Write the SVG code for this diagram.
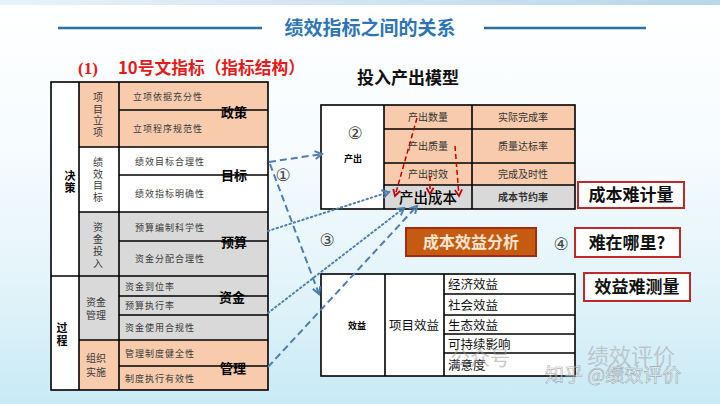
<svg xmlns="http://www.w3.org/2000/svg" width="720" height="404" viewBox="0 0 720 404">
<defs>
<linearGradient id="bg" x1="0" y1="0" x2="0" y2="1">
<stop offset="0" stop-color="#ffffff"/>
<stop offset="0.35" stop-color="#f7fcfe"/>
<stop offset="0.7" stop-color="#e3f4fa"/>
<stop offset="1" stop-color="#c9eaf5"/>
</linearGradient>
<linearGradient id="topbar" x1="0" y1="0" x2="1" y2="0">
<stop offset="0" stop-color="#e9f2f8"/>
<stop offset="1" stop-color="#b8d6ea"/>
</linearGradient>
<marker id="ab" viewBox="0 0 10 10" refX="8" refY="5" markerWidth="5" markerHeight="5" orient="auto" markerUnits="strokeWidth">
<path d="M1,1 L8,5 L1,9" fill="none" stroke="#4f7fae" stroke-width="2"/>
</marker>
<marker id="ar" viewBox="0 0 10 10" refX="8" refY="5" markerWidth="6" markerHeight="6" orient="auto" markerUnits="strokeWidth">
<path d="M1,1 L8,5 L1,9" fill="none" stroke="#c00000" stroke-width="2"/>
</marker>
</defs>
<style>
.f{font-family:"Noto Sans CJK SC","Liberation Sans",sans-serif}
.cell{font-family:"Noto Sans CJK SC",sans-serif;font-size:9px;fill:#3a3a3a;letter-spacing:1px}
.vt{font-family:"Noto Sans CJK SC",sans-serif;font-size:10px;fill:#3a3a3a;text-anchor:middle}
.lab{font-family:"Noto Sans CJK SC",sans-serif;font-size:13px;font-weight:bold;fill:#000;text-anchor:middle}
.rc{font-family:"Noto Sans CJK SC",sans-serif;font-size:10px;fill:#333;text-anchor:middle}
.bt{font-family:"Noto Sans CJK SC",sans-serif;font-size:12.5px;fill:#111}
.ln{stroke:#000;stroke-width:1.6;fill:none}
.box{fill:#fff;stroke:#c0282a;stroke-width:2}
.big{font-family:"Noto Sans CJK SC",serif;font-size:17px;font-weight:bold;fill:#111;text-anchor:middle}
.blue-dash{stroke:#4f7fae;stroke-width:2;stroke-dasharray:7,4;fill:none}
.blue-dot{stroke:#4f7fae;stroke-width:2;stroke-dasharray:1.5,3;stroke-linecap:round;fill:none}
.red-dash{stroke:#c00000;stroke-width:1.5;stroke-dasharray:5,3;fill:none}
.circ{font-family:"DejaVu Sans",sans-serif;font-size:17px;fill:#444;text-anchor:middle}
</style>
<rect width="720" height="404" fill="url(#bg)"/>
<rect x="0" y="0" width="720" height="5" fill="url(#topbar)"/>

<g id="title">
<line x1="58" y1="28" x2="262" y2="28" stroke="#2f6f9f" stroke-width="2.5"/>
<line x1="484" y1="28" x2="646" y2="28" stroke="#2f6f9f" stroke-width="2.5"/>
<text class="f" x="370" y="35" font-size="19" font-weight="bold" fill="#2e75b6" text-anchor="middle">绩效指标之间的关系</text>
</g>

<g id="heading">
<text x="78" y="74" font-family="Liberation Serif,serif" font-size="17" font-weight="bold" fill="#e31b1b">(1)</text>
<text class="f" x="118" y="74" font-size="17" font-weight="bold" fill="#e31b1b" textLength="187" lengthAdjust="spacingAndGlyphs">10号文指标（指标结构）</text>
<text class="f" x="408" y="84" font-size="17" font-weight="bold" fill="#111" text-anchor="middle">投入产出模型</text>
</g>

<g id="left-table">
<rect x="51" y="82" width="217" height="308" fill="#fff"/>
<rect x="79" y="82" width="189" height="65" fill="#f8cbad"/>
<rect x="79" y="212" width="189" height="128" fill="#d9d9d9"/>
<rect x="79" y="340" width="189" height="50" fill="#f8cbad"/>
<g class="ln">
<rect x="51" y="82" width="217" height="308"/>
<line x1="79" y1="82" x2="79" y2="390"/>
<line x1="119" y1="82" x2="119" y2="390"/>
<line x1="51" y1="276" x2="268" y2="276"/>
<line x1="79" y1="147" x2="268" y2="147"/>
<line x1="79" y1="212" x2="268" y2="212"/>
<line x1="79" y1="340" x2="268" y2="340"/>
<line x1="119" y1="110" x2="268" y2="110"/>
<line x1="119" y1="175" x2="268" y2="175"/>
<line x1="119" y1="241" x2="268" y2="241"/>
<line x1="119" y1="296" x2="268" y2="296"/>
<line x1="119" y1="315" x2="268" y2="315"/>
<line x1="119" y1="366" x2="268" y2="366"/>
</g>
<text class="f" x="70" y="180" font-size="11" font-weight="bold" text-anchor="middle">决</text>
<text class="f" x="70" y="192" font-size="11" font-weight="bold" text-anchor="middle">策</text>
<text class="f" x="62" y="332" font-size="11" font-weight="bold" text-anchor="middle">过</text>
<text class="f" x="62" y="345" font-size="11" font-weight="bold" text-anchor="middle">程</text>
<text class="vt" x="98" y="101">项</text>
<text class="vt" x="98" y="113">目</text>
<text class="vt" x="98" y="124">立</text>
<text class="vt" x="98" y="136">项</text>
<text class="vt" x="98" y="166">绩</text>
<text class="vt" x="98" y="178">效</text>
<text class="vt" x="98" y="189">目</text>
<text class="vt" x="98" y="201">标</text>
<text class="vt" x="98" y="231">资</text>
<text class="vt" x="98" y="243">金</text>
<text class="vt" x="98" y="255">投</text>
<text class="vt" x="98" y="267">入</text>
<text class="vt" x="96" y="306">资金</text>
<text class="vt" x="96" y="319">管理</text>
<text class="vt" x="96" y="362">组织</text>
<text class="vt" x="96" y="376">实施</text>
<text class="cell" x="133" y="100">立项依据充分性</text>
<text class="cell" x="133" y="132">立项程序规范性</text>
<text class="cell" x="135" y="165">绩效目标合理性</text>
<text class="cell" x="135" y="197">绩效指标明确性</text>
<text class="cell" x="135" y="231">预算编制科学性</text>
<text class="cell" x="135" y="262">资金分配合理性</text>
<text class="cell" x="125" y="290">资金到位率</text>
<text class="cell" x="125" y="309">预算执行率</text>
<text class="cell" x="125" y="331">资金使用合规性</text>
<text class="cell" x="125" y="357">管理制度健全性</text>
<text class="cell" x="125" y="382">制度执行有效性</text>
</g>

<g id="labels">
<text class="lab" x="234" y="117">政策</text>
<text class="lab" x="234" y="180">目标</text>
<text class="lab" x="234" y="247">预算</text>
<text class="lab" x="232" y="302">资金</text>
<text class="lab" x="233" y="373">管理</text>
</g>

<g id="io-table">
<rect x="321" y="105" width="254" height="104" fill="#fff"/>
<rect x="384" y="105" width="191" height="80" fill="#f8cbad"/>
<rect x="384" y="185" width="191" height="24" fill="#d9d9d9"/>
<g class="ln">
<rect x="321" y="105" width="254" height="104"/>
<line x1="384" y1="105" x2="384" y2="209"/>
<line x1="472" y1="105" x2="472" y2="209"/>
<line x1="384" y1="129" x2="575" y2="129"/>
<line x1="384" y1="163" x2="575" y2="163"/>
<line x1="384" y1="185" x2="575" y2="185"/>
</g>
<text class="circ" x="355" y="139">②</text>
<text class="f" x="353" y="162" font-size="9" font-weight="bold" text-anchor="middle">产出</text>
<text class="rc" x="428" y="121">产出数量</text>
<text class="rc" x="428" y="150">产出质量</text>
<text class="rc" x="428" y="178">产出时效</text>
<text class="f" x="428" y="203" font-size="14.5" font-weight="500" fill="#000" text-anchor="middle">产出成本</text>
<text class="rc" x="523" y="121">实际完成率</text>
<text class="rc" x="523" y="150">质量达标率</text>
<text class="rc" x="523" y="178">完成及时性</text>
<text class="rc" x="523" y="201" font-weight="bold" fill="#111">成本节约率</text>
</g>

<g id="benefit-table">
<rect x="321" y="274" width="254" height="102" fill="#fff"/>
<g class="ln">
<rect x="321" y="274" width="254" height="102"/>
<line x1="385" y1="274" x2="385" y2="376"/>
<line x1="444" y1="274" x2="444" y2="376"/>
<line x1="444" y1="294" x2="575" y2="294"/>
<line x1="444" y1="315" x2="575" y2="315"/>
<line x1="444" y1="334" x2="575" y2="334"/>
<line x1="444" y1="353" x2="575" y2="353"/>
</g>
<text class="f" x="357" y="329" font-size="9" font-weight="bold" text-anchor="middle">效益</text>
<text class="bt" x="414" y="330" text-anchor="middle">项目效益</text>
<text class="bt" x="448" y="289">经济效益</text>
<text class="bt" x="448" y="310">社会效益</text>
<text class="bt" x="448" y="330">生态效益</text>
<text class="bt" x="448" y="349">可持续影响</text>
<text class="bt" x="448" y="370">满意度</text>
</g>

<g id="cba">
<rect x="406" y="228" width="130" height="28" fill="#c55a11" stroke="#a52a14" stroke-width="2"/>
<text class="f" x="471" y="248" font-size="16" font-weight="bold" fill="#fde4d0" text-anchor="middle">成本效益分析</text>
</g>
<g id="q4">
<text class="circ" x="561" y="250" fill="#222">④</text>
<rect class="box" x="575" y="228" width="105" height="29"/>
<text class="big" x="627" y="249">难在哪里?</text>
</g>
<g id="cost-hard">
<rect class="box" x="578" y="182" width="106" height="26"/>
<text class="big" x="631" y="201">成本难计量</text>
</g>
<g id="benefit-hard">
<rect class="box" x="584" y="273" width="106" height="28"/>
<text class="big" x="637" y="293">效益难测量</text>
</g>

<g id="connectors">
<line class="blue-dash" x1="269" y1="162" x2="322" y2="154" marker-end="url(#ab)"/>
<line class="blue-dash" x1="270" y1="164" x2="319" y2="294" marker-end="url(#ab)"/>
<line class="blue-dot" x1="268" y1="231" x2="389" y2="192" marker-end="url(#ab)"/>
<line class="blue-dot" x1="268" y1="313" x2="404" y2="208" marker-end="url(#ab)"/>
<line class="blue-dash" x1="268" y1="367" x2="417" y2="206" marker-end="url(#ab)"/>
<line class="red-dash" x1="417" y1="118" x2="395" y2="196" marker-end="url(#ar)"/>
<line class="red-dash" x1="455" y1="146" x2="459" y2="196" marker-end="url(#ar)"/>
<line class="red-dash" x1="430" y1="176" x2="430" y2="194" marker-end="url(#ar)"/>
<text class="circ" x="283" y="181" fill="#555">①</text>
<text class="circ" x="327" y="246" fill="#555">③</text>
</g>

<g id="watermark" opacity="0.55">
<text class="f" x="450" y="366" font-size="20" fill="#9a9a9a">公众号</text>
<text class="f" x="587" y="364" font-size="22" fill="#a8a8a8">绩效评价</text>
<text class="f" x="545" y="382" font-size="19" fill="#ffffff" stroke="#777" stroke-width="0.6">知乎 @绩效评价</text>
</g>
</svg>
